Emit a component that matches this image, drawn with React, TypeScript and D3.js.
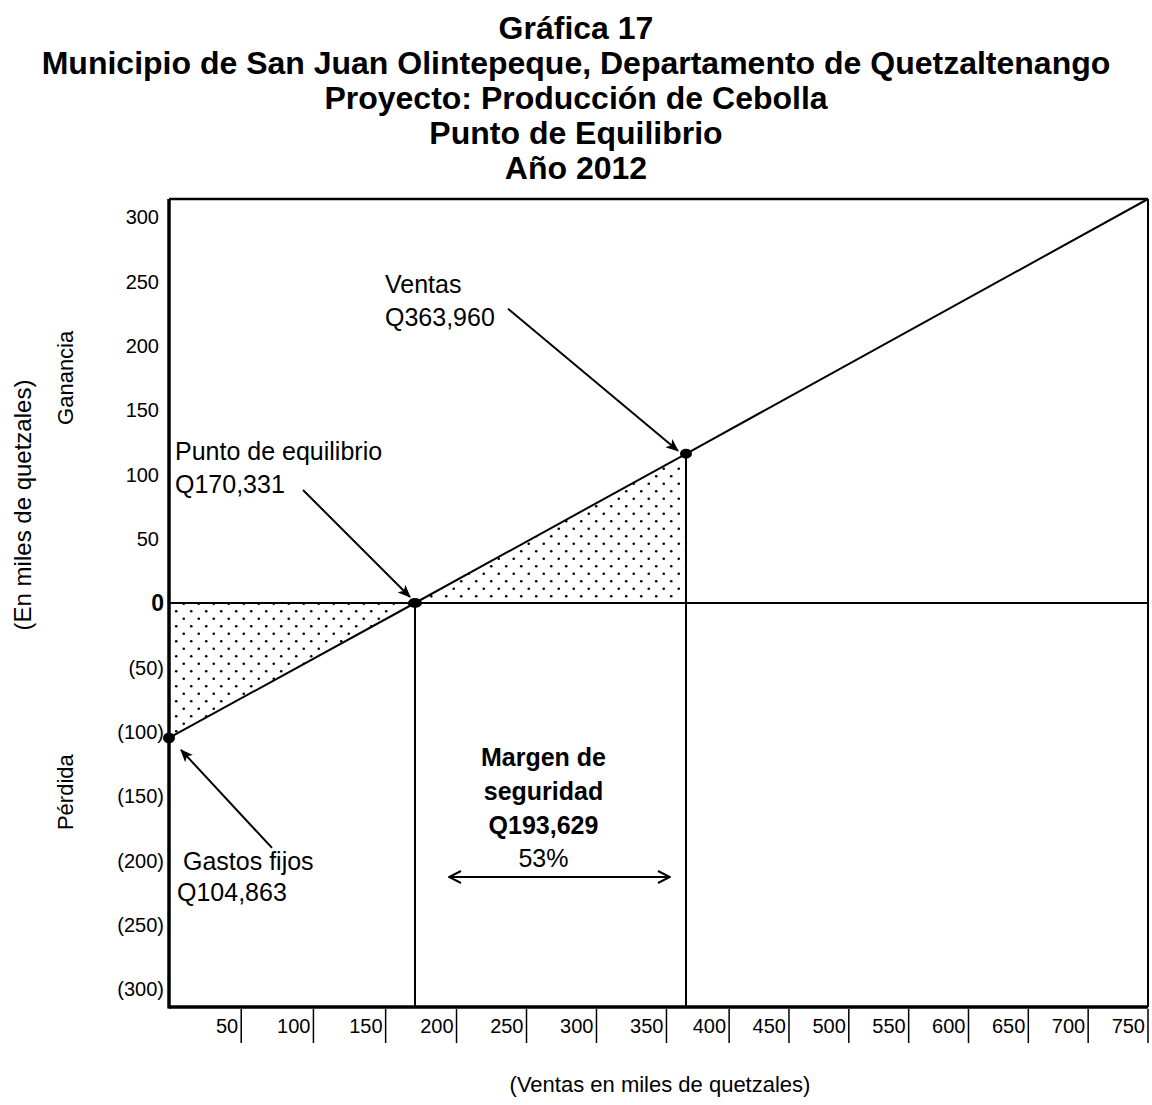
import React from 'react';
import * as d3 from 'd3';

// ---- data (miles de quetzales) ----
const titleLines = [
  'Gráfica 17',
  'Municipio de San Juan Olintepeque, Departamento de Quetzaltenango',
  'Proyecto: Producción de Cebolla',
  'Punto de Equilibrio',
  'Año 2012',
];
const xTicks = [50, 100, 150, 200, 250, 300, 350, 400, 450, 500, 550, 600, 650, 700, 750];
const yTicks = [300, 250, 200, 150, 100, 50, 0, -50, -100, -150, -200, -250, -300];
const lineSales = [0, 170.331, 363.96, 750];
const lineResult = [-104.863, 0, 116, 314];
const fixedCosts = 104.863;
const breakEven = 170.331;
const sales = 363.96;
const salesResult = 116;
const safetyMargin = 193.629;
const safetyPct = 53;

const W = 1152;
const H = 1105;
const plot = { left: 169, right: 1148, top: 199, bottom: 1007 };
const FONT = '"Liberation Sans", Arial, Helvetica, sans-serif';

const fmtQ = (v: number) => 'Q' + d3.format(',')(Math.round(v * 1000));

export default function App() {
  const x = d3
    .scaleLinear()
    .domain([0, breakEven, sales, 750])
    .range([plot.left, 415, 686, plot.right]);
  const y = d3.scaleLinear().domain([-314, 314]).range([plot.bottom, plot.top]);

  const line = d3
    .line<number>()
    .x((_, i) => x(lineSales[i]))
    .y((d) => y(d));

  const bx = x(breakEven);
  const by = y(0);
  const sx = x(sales);
  const sy = y(salesResult);
  const fx = x(0);
  const fy = y(-fixedCosts);

  const lossArea = [
    [x(0), y(0)],
    [bx, by],
    [fx, fy],
  ];
  const profitArea = [
    [bx, by],
    [sx, y(0)],
    [sx, sy],
  ];
  const poly = (pts: number[][]) => pts.map((p) => p.join(',')).join(' ');

  const annot = { fontFamily: FONT, fontSize: 25, fill: '#000' } as const;
  const midMargin = (bx + sx) / 2 - 7;

  return (
    <div style={{ position: 'absolute', left: 0, top: 0 }}>
      <svg width={W} height={H} viewBox={`0 0 ${W} ${H}`} style={{ display: 'block', background: '#fff' }}>
        <defs>
          <pattern id="dots" width={15} height={15} patternUnits="userSpaceOnUse">
            <circle cx={3.75} cy={3.75} r={1.3} fill="#000" />
            <circle cx={11.25} cy={11.25} r={1.3} fill="#000" />
          </pattern>
          <marker id="ah" viewBox="0 0 12 10" refX={11} refY={5} markerWidth={13} markerHeight={11} markerUnits="userSpaceOnUse" orient="auto">
            <path d="M0,0 L12,5 L0,10 L3,5 z" fill="#000" />
          </marker>
          <marker id="open" viewBox="0 0 14 14" refX={13} refY={7} markerWidth={14} markerHeight={14} markerUnits="userSpaceOnUse" orient="auto-start-reverse">
            <path d="M1,1 L13,7 L1,13" fill="none" stroke="#000" strokeWidth={2} />
          </marker>
        </defs>

        {/* title */}
        {titleLines.map((t, i) => (
          <text key={t} x={W / 2} y={39 + i * 35} textAnchor="middle" fontFamily={FONT} fontWeight="bold" fontSize={32} fill="#000">
            {t}
          </text>
        ))}

        {/* shaded areas */}
        <polygon points={poly(lossArea)} fill="url(#dots)" />
        <polygon points={poly(profitArea)} fill="url(#dots)" />

        {/* frame */}
        <line x1={plot.left} x2={plot.right} y1={plot.top} y2={plot.top} stroke="#000" strokeWidth={2.5} />
        <line x1={plot.right} x2={plot.right} y1={plot.top} y2={plot.bottom} stroke="#000" strokeWidth={2} />
        <line x1={plot.left} x2={plot.left} y1={plot.top} y2={plot.bottom + 1.5} stroke="#000" strokeWidth={3.5} />
        <line x1={plot.left} x2={plot.right} y1={plot.bottom} y2={plot.bottom} stroke="#000" strokeWidth={3.5} />

        {/* zero line */}
        <line x1={plot.left} x2={plot.right} y1={y(0)} y2={y(0)} stroke="#000" strokeWidth={2} />

        {/* vertical lines */}
        <line x1={bx} x2={bx} y1={by} y2={plot.bottom} stroke="#000" strokeWidth={2} />
        <line x1={sx} x2={sx} y1={sy} y2={plot.bottom} stroke="#000" strokeWidth={2} />

        {/* result line */}
        <path d={line(lineResult) || ''} fill="none" stroke="#000" strokeWidth={2} />

        {/* points */}
        <ellipse cx={fx} cy={fy} rx={6} ry={5.5} fill="#000" />
        <ellipse cx={bx} cy={by} rx={7} ry={5} fill="#000" />
        <ellipse cx={sx} cy={sy} rx={6} ry={5} fill="#000" />

        {/* y tick labels */}
        {yTicks.map((v) => (
          <text
            key={v}
            x={v > 0 ? plot.left - 10 : plot.left - 5}
            y={y(v)}
            dy="0.36em"
            textAnchor="end"
            fontFamily={FONT}
            fontSize={v === 0 ? 23 : 20}
            fontWeight={v === 0 ? 'bold' : 'normal'}
            fill="#000"
          >
            {v < 0 ? `(${-v})` : `${v}`}
          </text>
        ))}

        {/* x ticks */}
        {xTicks.map((v) => (
          <g key={v}>
            <line x1={x(v)} x2={x(v)} y1={plot.bottom + 2} y2={plot.bottom + 36} stroke="#000" strokeWidth={1.5} />
            <text x={x(v) - 3} y={plot.bottom + 26} textAnchor="end" fontFamily={FONT} fontSize={20} fill="#000">
              {v}
            </text>
          </g>
        ))}

        {/* axis titles */}
        <text x={W / 2 + 84} y={1092} textAnchor="middle" fontFamily={FONT} fontSize={22} fill="#000">
          (Ventas en miles de quetzales)
        </text>
        <text transform={`translate(31,${y(0) - 98}) rotate(-90)`} textAnchor="middle" fontFamily={FONT} fontSize={24} fill="#000">
          (En miles de quetzales)
        </text>
        <text transform={`translate(73,${y(175)}) rotate(-90)`} textAnchor="middle" fontFamily={FONT} fontSize={22} fill="#000">
          Ganancia
        </text>
        <text transform={`translate(73,${y(-147)}) rotate(-90)`} textAnchor="middle" fontFamily={FONT} fontSize={22} fill="#000">
          Pérdida
        </text>

        {/* Ventas */}
        <text x={sx - 301} y={sy - 161} {...annot}>Ventas</text>
        <text x={sx - 301} y={sy - 128} {...annot}>{fmtQ(sales)}</text>
        <line x1={sx - 178} y1={sy - 145} x2={sx - 8} y2={sy - 3} stroke="#000" strokeWidth={2} markerEnd="url(#ah)" />

        {/* Punto de equilibrio */}
        <text x={plot.left + 6} y={by - 143} {...annot}>Punto de equilibrio</text>
        <text x={plot.left + 6} y={by - 110} {...annot}>{fmtQ(breakEven)}</text>
        <line x1={bx - 112} y1={by - 113} x2={bx - 5} y2={by - 6} stroke="#000" strokeWidth={2} markerEnd="url(#ah)" />

        {/* Gastos fijos */}
        <text x={fx + 14} y={fy + 132} {...annot}>Gastos fijos</text>
        <text x={fx + 8} y={fy + 163} {...annot}>{fmtQ(fixedCosts)}</text>
        <line x1={fx + 103} y1={fy + 110} x2={fx + 12} y2={fy + 12} stroke="#000" strokeWidth={2} markerEnd="url(#ah)" />

        {/* Margen de seguridad */}
        <text x={midMargin} y={766} textAnchor="middle" {...annot} fontWeight="bold">Margen de</text>
        <text x={midMargin} y={800} textAnchor="middle" {...annot} fontWeight="bold">seguridad</text>
        <text x={midMargin} y={834} textAnchor="middle" {...annot} fontWeight="bold">{fmtQ(safetyMargin)}</text>
        <text x={midMargin} y={867} textAnchor="middle" {...annot}>{`${safetyPct}%`}</text>
        <line x1={bx + 34} x2={sx - 16} y1={877} y2={877} stroke="#000" strokeWidth={1.8} markerStart="url(#open)" markerEnd="url(#open)" />
      </svg>
    </div>
  );
}
